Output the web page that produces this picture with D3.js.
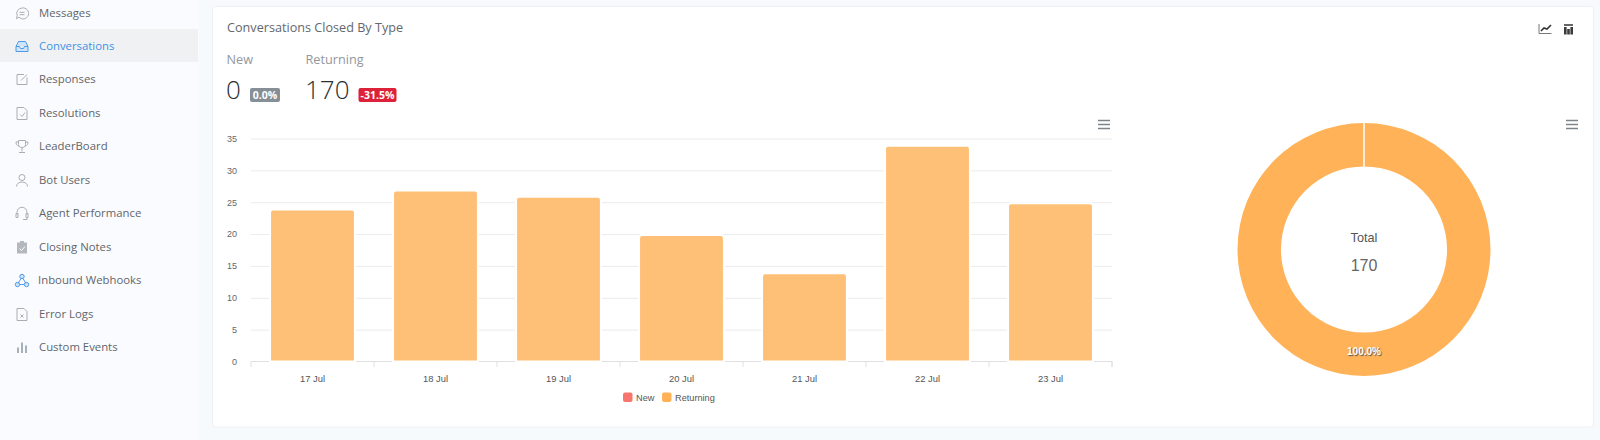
<!DOCTYPE html>
<html><head><meta charset="utf-8">
<script src="https://cdn.jsdelivr.net/npm/d3@7"></script>
<style>
html,body{margin:0;padding:0;background:#f8fafd;overflow:hidden}
svg{display:block}
</style></head><body><svg id="c" width="1600" height="440"></svg>
<script>
const navItems=["Messages","Conversations","Responses","Resolutions","LeaderBoard","Bot Users","Agent Performance","Closing Notes","Inbound Webhooks","Error Logs","Custom Events"];
const navY=[13.5,46.5,79.5,113.5,146.5,180.5,213.5,247.5,280.5,314.5,347.5];
const days=["17 Jul","18 Jul","19 Jul","20 Jul","21 Jul","22 Jul","23 Jul"];
const newValues=[0,0,0,0,0,0,0];
const returningValues=[24,27,26,20,14,34,25];
const yTicks=[0,5,10,15,20,25,30,35];
const seriesNames=["New","Returning"];
const seriesColors=["#f7756c","#ffb257"];
const shareValues=[0,170];

const svg=d3.select("#c");
const UI="'Open Sans',sans-serif", CH="'Liberation Sans',Arial,sans-serif";

// sidebar
svg.append("rect").attr("x",0).attr("y",0).attr("width",199).attr("height",440).attr("fill","#fafbfe");
svg.append("rect").attr("x",199).attr("y",0).attr("width",1401).attr("height",440).attr("fill","#f7fafc");
svg.append("rect").attr("x",0).attr("y",29).attr("width",198).attr("height",33).attr("fill","#f0f1f3");
const icons=[
 g=>{g.append("path").attr("d","M0-5.5A5.5 5.5 0 1 1-3 3.6L-5.5 5.2L-4.8 2.2A5.5 5.5 0 0 1 0-5.5Z").attr("fill","none");g.append("path").attr("d","M-2.5-1.2H2.5M-2.5 1.2H2.5")},
 g=>{g.append("path").attr("d","M-6 0L-3.5-5H3.5L6 0V5H-6ZM-6 0H-2.5L-1.5 2H1.5L2.5 0H6").attr("fill","#cfe4fb")},
 g=>{g.append("path").attr("d","M5-2V5H-5V-5H2M-1 1L5-5").attr("fill","none")},
 g=>{g.append("path").attr("d","M-5-6H2L5-3V6H-5ZM-2 1L0 3L3-1").attr("fill","none")},
 g=>{g.append("path").attr("d","M-3.5-6H3.5V-2C3.5 2-3.5 2-3.5-2ZM0 1V5M-3 6H3M-3.5-4.5H-6C-6-1-4-1-3 0M3.5-4.5H6C6-1 4-1 3 0").attr("fill","none")},
 g=>{g.append("circle").attr("cy",-3).attr("r",3).attr("fill","none");g.append("path").attr("d","M-5.5 6C-5.5 0 5.5 0 5.5 6").attr("fill","none")},
 g=>{g.append("path").attr("d","M-5 1V-1C-5-8 5-8 5-1V1M-6 0H-4V4H-6ZM4 0H6V4H4ZM5 4V6H1").attr("fill","none")},
 g=>{g.append("path").attr("d","M-5-5H-2V-6.5H2V-5H5V6H-5Z").attr("fill","#b3b8bf").attr("stroke","none");g.append("path").attr("d","M-2.5 1L-.5 3L3-1").attr("fill","none").attr("stroke","#fff")},
 g=>{g.append("circle").attr("cy",-4).attr("r",2.2).attr("fill","#d3e6f8");g.append("circle").attr("cx",-4.5).attr("cy",4).attr("r",2.2).attr("fill","#d3e6f8");g.append("circle").attr("cx",4.5).attr("cy",4).attr("r",2.2).attr("fill","#d3e6f8");g.append("path").attr("d","M-1-2L-4 3M1-2L4 3M-2 4H2").attr("fill","none")},
 g=>{g.append("path").attr("d","M-5-6H2L5-3V6H-5ZM-1.5 0L1.5 3M1.5 0L-1.5 3").attr("fill","none")},
 g=>{g.append("path").attr("d","M-5 5.5V0H-3V5.5ZM-1-5H1V5.5H-1ZM3-2H5V5.5H3Z").attr("fill","#a9b0b9").attr("stroke","none")}
];
const nav=svg.append("g").selectAll("g").data(navItems).join("g")
 .attr("transform",(d,i)=>`translate(0,${navY[i]})`);
nav.append("g").attr("transform","translate(22,0)")
 .attr("stroke",(d,i)=>i===1||i===8?"#4c9be8":"#a8aeb5").attr("stroke-width",1)
 .each(function(d,i){icons[i](d3.select(this))});
nav.append("text").text(d=>d).attr("x",(d,i)=>i===8?38:39).attr("y",0).attr("dy","0.35em")
 .attr("font-family",UI).attr("font-size",11.35).attr("fill",(d,i)=>i===1?"#3f92e6":"#62666b");

// card
svg.append("rect").attr("x",212.5).attr("y",6.5).attr("width",1381).attr("height",420.5).attr("rx",3)
 .attr("fill","#fff").attr("stroke","#eef1f4");
svg.append("text").text("Conversations Closed By Type").attr("x",227).attr("y",28).attr("dy","0.35em")
 .attr("font-family",UI).attr("font-size",12.65).attr("fill","#63686d");

// stats
const stats=[{n:seriesNames[0],v:"0",b:"0.0%",c:"#868e96",x:227,bx:250,bw:30},{n:seriesNames[1],v:String(d3.sum(returningValues)),b:"-31.5%",c:"#dc2238",x:306,bx:358.5,bw:38}];
stats.forEach(s=>{
 svg.append("text").text(s.n).attr("x",s.x-.5).attr("y",59.5).attr("dy","0.35em").attr("font-family",UI).attr("font-size",12.7).attr("fill","#93989e");
 svg.append("text").text(s.v).attr("x",s.x-1).attr("y",89.5).attr("dy","0.35em").attr("font-family",UI).attr("font-weight",300).attr("font-size",26).attr("fill","#2b2f33");
 svg.append("rect").attr("x",s.bx).attr("y",88).attr("width",s.bw).attr("height",14).attr("rx",2).attr("fill",s.c);
 svg.append("text").text(s.b).attr("x",s.bx+s.bw/2).attr("y",95).attr("dy","0.35em").attr("text-anchor","middle").attr("font-family",UI).attr("font-weight",700).attr("font-size",10.5).attr("fill","#fff");
});

// toolbar icons
const tb=svg.append("g").attr("fill","none").attr("stroke","#333");
tb.append("path").attr("d","M1539 24V33.5H1551.5").attr("stroke","#777");
tb.append("path").attr("d","M1541 31L1544 28L1547 29L1551 25").attr("stroke-width",1.6);
svg.append("g").attr("fill","#3c3c3c").selectAll("rect").data([0,1,2]).join("rect")
 .attr("x",d=>1564+d*3.2).attr("y",d=>[27,29,27][d]).attr("width",2.6).attr("height",d=>[7.5,5.5,7.5][d]);
svg.append("rect").attr("x",1564).attr("y",24).attr("width",9).attr("height",2).attr("fill","#666");

// hamburgers
[1098,1566].forEach(x=>{
 svg.append("path").attr("d",`M${x} 120.5H${x+12}M${x} 124.5H${x+12}M${x} 128.5H${x+12}`).attr("stroke","#7d858c").attr("stroke-width",1.5);
});

// bar chart
const x=d3.scaleBand().domain(days).range([251,1112]).paddingInner(.31).paddingOuter(.155);
const y=d3.scaleLinear().domain([0,35]).range([361.5,138.5]);
const gy=svg.append("g").attr("transform","translate(251,0)")
 .call(d3.axisLeft(y).tickValues(yTicks).tickSize(-861).tickPadding(14));
gy.select(".domain").remove();
gy.selectAll(".tick line").attr("stroke","#ebebeb");
gy.selectAll(".tick").filter(d=>d===0).select("line").remove();
gy.selectAll("text").attr("font-family",CH).attr("font-size",9).attr("fill","#666");

const xb=d3.scaleBand().domain(days).range([251,1112]);
const gx=svg.append("g").attr("transform","translate(0,361.5)").call(d3.axisBottom(xb).tickSize(0).tickPadding(14));
gx.select(".domain").attr("stroke","#e0e0e0").attr("d","M251 5.5V0H1112V5.5");
gx.selectAll("text").attr("font-family",CH).attr("font-size",9.4).attr("fill","#555");
svg.append("g").attr("stroke","#e0e0e0").selectAll("line").data(days).join("line")
 .attr("x1",d=>xb(d)+xb.bandwidth()).attr("x2",d=>xb(d)+xb.bandwidth()).attr("y1",361.5).attr("y2",367);

const bars=days.map((d,i)=>({d,v:returningValues[i]}));
svg.append("g").selectAll("path").data(bars).join("path")
 .attr("d",b=>{const l=x(b.d),r=l+x.bandwidth(),t=y(b.v)+1,B=y(0),R=3;
   return `M${l} ${B}V${t+R}Q${l} ${t} ${l+R} ${t}H${r-R}Q${r} ${t} ${r} ${t+R}V${B}Z`;})
 .attr("fill","#fec077").attr("stroke","#fff").attr("stroke-width",2);

// legend
const leg=[{n:seriesNames[0],c:seriesColors[0],x:623},{n:seriesNames[1],c:seriesColors[1],x:662}];
leg.forEach(l=>{
 svg.append("rect").attr("x",l.x).attr("y",392.5).attr("width",9.5).attr("height",9.5).attr("rx",2).attr("fill",l.c);
 svg.append("text").text(l.n).attr("x",l.x+13).attr("y",397.5).attr("dy","0.35em").attr("font-family",CH).attr("font-size",9.2).attr("fill","#555");
});

// donut
const pie=d3.pie().sort(null)(shareValues);
const arc=d3.arc().innerRadius(83).outerRadius(126.5);
const donut=svg.append("g").attr("transform","translate(1364,249.5)");
donut.selectAll("path").data(pie).join("path").attr("d",arc).attr("fill",(d,i)=>seriesColors[i]);
donut.append("line").attr("x1",0).attr("x2",0).attr("y1",-127).attr("y2",-82).attr("stroke","#fff").attr("stroke-width",1.5);
donut.append("text").text("Total").attr("x",0).attr("y",-12).attr("dy","0.35em").attr("text-anchor","middle").attr("font-family",CH).attr("font-size",12.7).attr("fill","#555");
donut.append("text").text(d3.sum(shareValues)).attr("x",0).attr("y",15.5).attr("dy","0.35em").attr("text-anchor","middle").attr("font-family",CH).attr("font-size",16).attr("fill","#666");
donut.append("text").text("100.0%").attr("x",0).attr("y",102).attr("dy","0.35em").attr("text-anchor","middle")
 .attr("font-family",CH).attr("font-weight",700).attr("font-size",10).attr("fill","#fff")
 .style("text-shadow","1px 1px 1px #555");
</script></body></html>
